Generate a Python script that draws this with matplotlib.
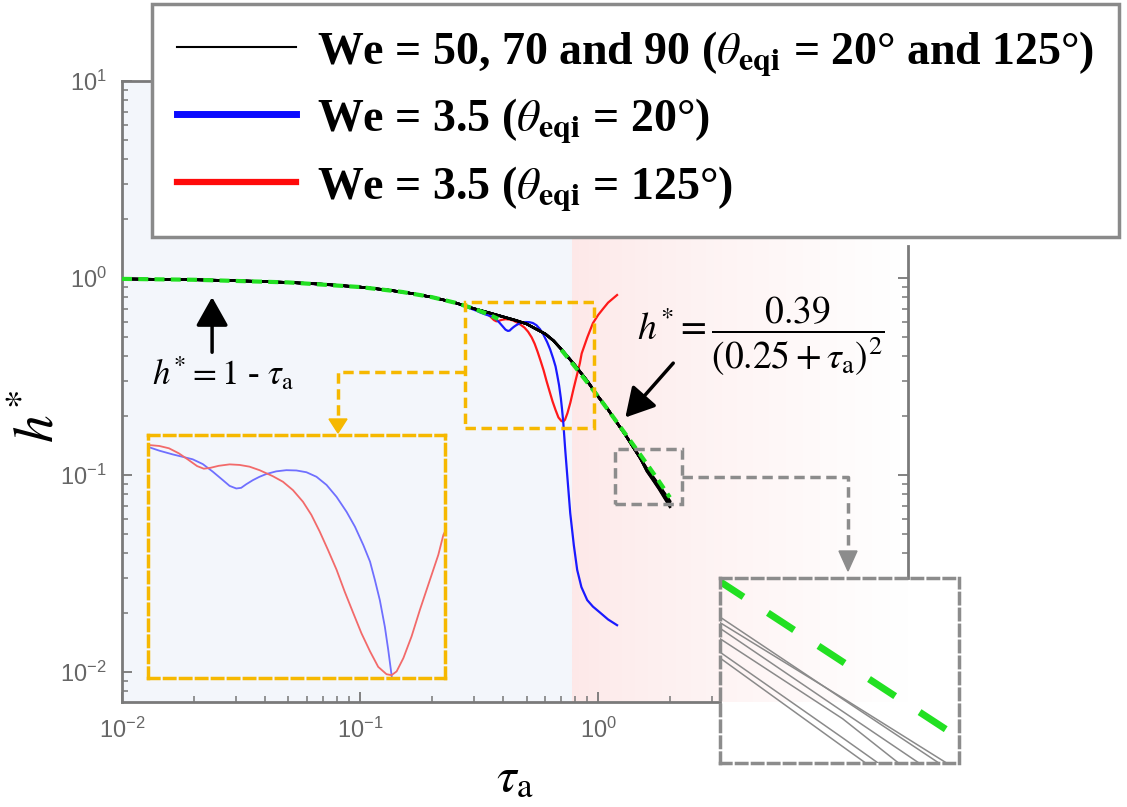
import matplotlib.pyplot as plt
import numpy as np
from matplotlib.lines import Line2D
from matplotlib.patches import Rectangle, Polygon
from matplotlib.ticker import FixedLocator, NullFormatter
from matplotlib.font_manager import FontProperties

# ---- data ----
# black: We = 50, 70, 90 (theta = 20 and 125 deg), common part
tau_black = [0.01, 0.02, 0.03, 0.05, 0.07, 0.1, 0.13, 0.16, 0.2, 0.25, 0.3, 0.35,
             0.4, 0.45, 0.5, 0.55, 0.6, 0.65, 0.7, 0.8, 0.9, 1.0, 1.1, 1.2, 1.3, 1.4, 1.5]
h_black = [0.99, 0.98, 0.97, 0.95, 0.93, 0.90, 0.87, 0.84, 0.80, 0.75, 0.70, 0.665,
           0.635, 0.61, 0.585, 0.55, 0.52, 0.48, 0.435, 0.36, 0.30, 0.25, 0.215, 0.184,
           0.160, 0.139, 0.122]
# tails where the six runs separate a little
tail_tau = [1.6, 1.7, 1.8, 1.9, 2.0]
tail_we50_20 = [0.108, 0.098, 0.0891, 0.0807, 0.0735]
tail_we50_125 = [0.107, 0.097, 0.0879, 0.0795, 0.0723]
tail_we70_20 = [0.106, 0.0958, 0.0868, 0.0788, 0.0705]
tail_we70_125 = [0.105, 0.0945, 0.0854, 0.0770, 0.0697]
tail_we90_20 = [0.1045, 0.094, 0.0848, 0.0762, 0.0689]
tail_we90_125 = [0.1075, 0.0975, 0.0885, 0.0808, 0.0740]
tails = [tail_we50_20, tail_we50_125, tail_we70_20, tail_we70_125, tail_we90_20, tail_we90_125]

# blue: We = 3.5, theta = 20 deg
tau_blue = [0.01, 0.02, 0.05, 0.1, 0.15, 0.2, 0.25,
            0.3076, 0.3202, 0.3353, 0.3471, 0.3593, 0.3720, 0.3850, 0.3987, 0.4080,
            0.4175, 0.4246, 0.4320, 0.4420, 0.4523, 0.4629, 0.4791, 0.4961, 0.5136,
            0.5317, 0.5504, 0.5698, 0.5898, 0.6106, 0.6284, 0.6468, 0.6619, 0.6730,
            0.6847, 0.6966, 0.7047, 0.7129,
            0.727, 0.745, 0.763, 0.79, 0.816, 0.85, 0.899, 0.95, 1.02, 1.1, 1.2]
h_blue = [0.99, 0.98, 0.95, 0.90, 0.85, 0.80, 0.75,
          0.683, 0.668, 0.654, 0.645, 0.636, 0.619, 0.593, 0.565, 0.547,
          0.539, 0.541, 0.552, 0.565, 0.576, 0.585, 0.594, 0.598, 0.597,
          0.591, 0.576, 0.550, 0.514, 0.472, 0.434, 0.391, 0.356, 0.321,
          0.286, 0.246, 0.216, 0.187,
          0.134, 0.092, 0.064, 0.044, 0.033, 0.027, 0.0232, 0.0215, 0.020, 0.0185, 0.0173]

# red: We = 3.5, theta = 125 deg
tau_red = [0.01, 0.02, 0.05, 0.1, 0.15, 0.2, 0.25,
           0.3076, 0.3202, 0.3311, 0.3425, 0.3545, 0.3648, 0.3733, 0.3819, 0.3930,
           0.4080, 0.4223, 0.4370, 0.4523, 0.4734, 0.4903, 0.5075, 0.5253, 0.5408,
           0.5566, 0.5728, 0.5898, 0.6067, 0.6247, 0.6427, 0.6619, 0.6808, 0.7006,
           0.7129, 0.7254, 0.7425, 0.7638, 0.7861, 0.8136, 0.8375, 0.8521,
           0.9, 0.95, 1.0, 1.05, 1.1, 1.2]
h_red = [0.99, 0.98, 0.95, 0.90, 0.85, 0.80, 0.75,
         0.690, 0.686, 0.677, 0.658, 0.633, 0.612, 0.603, 0.606, 0.613,
         0.618, 0.616, 0.610, 0.598, 0.578, 0.560, 0.534, 0.500, 0.464,
         0.422, 0.380, 0.340, 0.300, 0.266, 0.237, 0.214, 0.196, 0.188,
         0.187, 0.191, 0.206, 0.233, 0.271, 0.321, 0.370, 0.414,
         0.50, 0.59, 0.65, 0.70, 0.75, 0.82]

# green dashed reference lines (h* = 1 - tau and h* = 0.39/(0.25+tau)^2)
tau_green1 = [0.01, 0.02, 0.05, 0.1, 0.15, 0.2, 0.25, 0.3, 0.35, 0.38]
h_green1 = [0.99, 0.98, 0.95, 0.90, 0.85, 0.80, 0.75, 0.70, 0.65, 0.62]
tau_green2 = [0.7, 0.8, 0.9, 1.0, 1.1, 1.2, 1.4, 1.6, 1.8, 2.0]
h_green2 = [0.432, 0.354, 0.295, 0.25, 0.214, 0.185, 0.143, 0.114, 0.093, 0.077]

W, H = 1127, 807


def px(x, y):
    return x / W, 1 - y / H


def dec_minor(d):
    return [k * d for k in range(2, 10)]


plt.rcParams['font.family'] = 'Liberation Sans'
plt.rcParams['mathtext.fontset'] = 'stix'

fig = plt.figure(figsize=(W / 100, H / 100), dpi=100)
ax = fig.add_axes([122 / W, 1 - 702 / H, 786 / W, 621 / H])
ax.set_xscale('log')
ax.set_yscale('log')

# background: light blue on the left, fading pink on the right
ax.set_facecolor('white')
ax.axvspan(0.01, 0.8, color='#f3f6fb', zorder=0, lw=0)
grad = np.linspace(0, 1, 256) ** 0.8
c0 = np.array([253, 232, 232]) / 255
c1 = np.array([255, 255, 255]) / 255
img = c0[None, None, :] * (1 - grad[None, :, None]) + c1[None, None, :] * grad[None, :, None]
ax.imshow(img, extent=[0.5725, 1, 0, 1], transform=ax.transAxes, aspect='auto', zorder=0.5)

green_kw = dict(color='#22e022', lw=3, dashes=(2.4, 1.5), zorder=5)

ax.plot(tau_red, h_red, color='#ff1a1a', lw=1.6, zorder=3)
ax.plot(tau_blue, h_blue, color='#1a1aff', lw=1.6, zorder=3)
for t in tails:
    ax.plot(tau_black + tail_tau, h_black + t, color='black', lw=1.8, zorder=4)
ax.plot(tau_green1, h_green1, **green_kw)
ax.plot(tau_green2, h_green2, **green_kw)

ax.set_xlim(0.01, 20)
ax.set_ylim(0.00705, 10)

# ticks
ax.xaxis.set_major_locator(FixedLocator([0.01, 0.1, 1]))
ax.xaxis.set_minor_locator(FixedLocator(dec_minor(0.01) + dec_minor(0.1) + [2, 3]))
ax.yaxis.set_major_locator(FixedLocator([0.01, 0.1, 1, 10]))
ax.yaxis.set_minor_locator(FixedLocator(dec_minor(0.001)[6:] + dec_minor(0.01) + dec_minor(0.1) + dec_minor(1)))
ax.xaxis.set_minor_formatter(NullFormatter())
ax.yaxis.set_minor_formatter(NullFormatter())
ax.tick_params(which='both', direction='in', color='#777777', labelcolor='#666666',
               top=False, right=False)
ax.tick_params(which='major', length=7, width=1.3, labelsize=17, pad=11)
ax.tick_params(which='minor', length=4, width=1.1)

for s in ax.spines.values():
    s.set_color('#7a7a7a')
    s.set_linewidth(2)
ax.spines['bottom'].set_bounds(0.01, 3.25)
ax.spines['right'].set_visible(False)

# right-hand axis line with ticks, only between the legend and the inset
axt = ax.twinx()
axt.set_yscale('log')
axt.set_ylim(ax.get_ylim())
axt.yaxis.set_major_locator(FixedLocator([0.1, 1]))
axt.yaxis.set_minor_locator(FixedLocator([0.03, 0.04, 0.05, 0.06, 0.07, 0.08, 0.09] + dec_minor(0.1)))
axt.yaxis.set_minor_formatter(NullFormatter())
axt.tick_params(which='both', direction='in', color='#777777', labelright=False)
axt.tick_params(which='major', length=7, width=1.3)
axt.tick_params(which='minor', length=4, width=1.1)
for name in ['left', 'top', 'bottom']:
    axt.spines[name].set_visible(False)
axt.spines['right'].set_color('#7a7a7a')
axt.spines['right'].set_linewidth(2)
axt.spines['right'].set_bounds(0.03, 1.45)

ax.set_xlabel(r'$\tau_{\mathrm{a}}$', fontsize=36)
ax.set_ylabel(r'$h^{*}$', fontsize=40)
ax.xaxis.set_label_coords(0.5, -0.085)
ax.yaxis.set_label_coords(-0.072, 0.46)

# legend
handles = [Line2D([], [], color='black', lw=1.5),
           Line2D([], [], color='#0a0aff', lw=5),
           Line2D([], [], color='#ff0a0a', lw=4.5)]
labels = [r'We = 50, 70 and 90 ($\theta_{\mathbf{eqi}}$ = 20° and 125°)',
          r'We = 3.5 ($\theta_{\mathbf{eqi}}$ = 20°)',
          r'We = 3.5 ($\theta_{\mathbf{eqi}}$ = 125°)']
leg = ax.legend(handles, labels, loc='upper left', bbox_to_anchor=px(152, 4),
                bbox_transform=fig.transFigure,
                prop=FontProperties(family='Liberation Serif', weight='bold', size=33),
                frameon=True, fancybox=False, edgecolor='#8a8a8a', framealpha=1,
                handlelength=2.6, handletextpad=0.45, labelspacing=0.42,
                borderpad=0.55, borderaxespad=0)
leg.get_frame().set_linewidth(2.5)
leg.set_zorder(10)

# annotations
arrow_kw = dict(arrowstyle='-|>,head_length=0.8,head_width=0.45', color='black', lw=2.5,
                mutation_scale=22, shrinkA=0, shrinkB=0)
ax.annotate('', xy=(0.0239, 0.80), xytext=(0.0239, 0.42), arrowprops=arrow_kw)
ax.text(0.01336, 0.286, r'$h^{*} = 1$ - $\tau_{\mathrm{a}}$', fontsize=25,
        family='Liberation Serif')
ax.annotate('', xy=(1.30, 0.196), xytext=(2.066, 0.370), arrowprops=arrow_kw)
ax.text(1.45, 0.505, r'$h^{*} = \dfrac{0.39}{\left(0.25+\tau_{\mathrm{a}}\right)^{2}}$',
        fontsize=27, va='center', ha='left')

yellow = '#f6b800'
grey = '#8c8c8c'
dash = (0, (3, 1.6))
ax.add_patch(Rectangle((0.276, 0.173), 0.962 - 0.276, 0.755 - 0.173, fill=False,
                       ec=yellow, lw=2.5, ls=dash, zorder=6))
ax.add_patch(Rectangle((1.179, 0.0711), 2.254 - 1.179, 0.1353 - 0.0711, fill=False,
                       ec=grey, lw=2.5, ls=dash, zorder=6))

# connectors with arrow heads
for pts, col, tri in [([(465, 372), (338, 372), (338, 421)], yellow,
                       [(329, 419), (347, 419), (338, 433)]),
                      ([(682, 477), (848, 477), (848, 552)], grey,
                       [(839, 551), (857, 551), (848, 571)])]:
    xs, ys = zip(*[px(*p) for p in pts])
    fig.add_artist(Line2D(xs, ys, color=col, lw=2.5, ls=dash, transform=fig.transFigure))
    fig.add_artist(Polygon([px(*p) for p in tri], closed=True, color=col,
                           transform=fig.transFigure))

# left inset: zoom on the We = 3.5 curves
x0, y0 = px(148, 678)
axl = fig.add_axes([x0, y0, 297 / W, 243 / H])
axl.set_facecolor('none')
axl.set_xscale('log')
axl.set_yscale('log')
axl.plot(tau_blue, h_blue, color='#6f6fff', lw=1.3)
axl.plot(tau_red, h_red, color='#f26a6a', lw=1.3)
axl.set_xlim(0.308, 0.857)
axl.set_ylim(0.184, 0.73)

# right inset: zoom on the tails
x0, y0 = px(720, 763)
axr = fig.add_axes([x0, y0, 239 / W, 185 / H])
axr.set_facecolor('none')
axr.set_xscale('log')
axr.set_yscale('log')
for t in tails:
    axr.plot(tau_black + tail_tau, h_black + t, color='#8a8a8a', lw=1.1)
axr.plot(tau_green2, h_green2, color='#22e022', lw=5, dashes=(4.5, 4.2))
axr.set_xlim(1.8, 2.0)
axr.set_ylim(0.0747, 0.0934)

for a, col in [(axl, yellow), (axr, grey)]:
    a.set_xticks([])
    a.set_yticks([])
    a.minorticks_off()
    a.tick_params(which='both', length=0, labelbottom=False, labelleft=False)
    for s in a.spines.values():
        s.set_color(col)
        s.set_linewidth(2.5)
        s.set_linestyle(dash)

fig.savefig('out.png', dpi=100)
